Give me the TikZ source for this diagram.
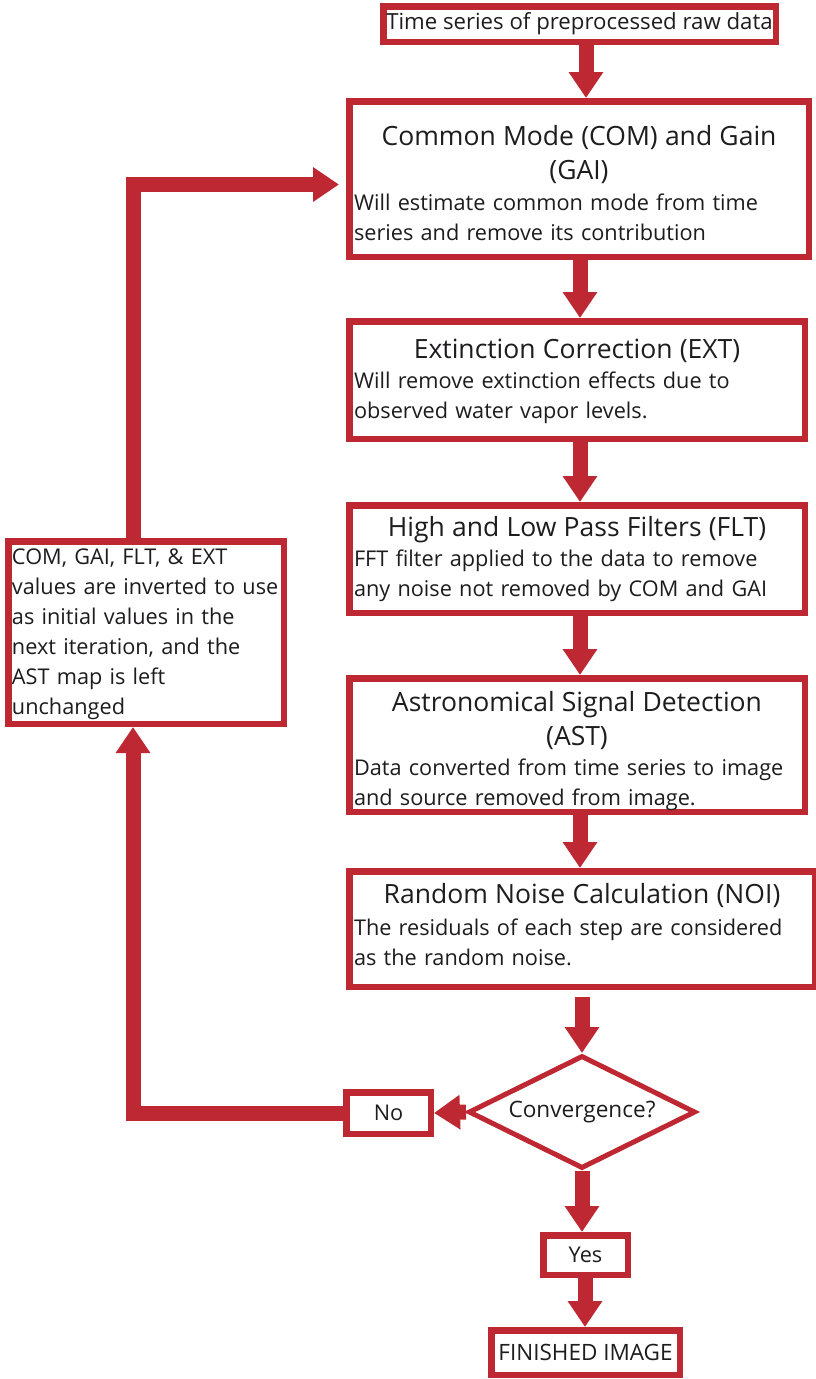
\documentclass[tikz,border=0pt]{standalone}
\usepackage{fontspec}
\setmainfont{Open Sans}
\usetikzlibrary{arrows.meta,shapes.geometric}
\definecolor{fred}{RGB}{190,40,50}
\definecolor{ftext}{RGB}{30,28,30}
\newcommand{\bodyf}{\fontsize{21.7}{30}\selectfont}
\newcommand{\titlef}{\fontsize{26.5}{34}\selectfont}
\newcommand{\shiftdown}[1]{\par\vspace{-#1}}
\begin{document}
\begin{tikzpicture}[x=1pt,y=-1pt,
  box/.style={draw=fred, line width=6.5pt, fill=white, inner sep=0pt, text=ftext, align=center, font=\bodyf},
  bigarrow/.style={draw=fred, line width=15pt, -{Triangle[length=26pt,width=33pt]}},
  diam/.style={diamond, aspect=2, draw=fred, line width=5pt, fill=white, inner sep=0pt, text=ftext, font=\fontsize{22.6}{29}\selectfont},
]
\useasboundingbox (0,0) rectangle (816,1379);

\node[box, font=\fontsize{22.2}{30}\selectfont, minimum width=392.5pt, minimum height=35.5pt] (top) at (579.5,24)
  {Time series of preprocessed raw data};

\node[box, minimum width=459.5pt, minimum height=155.5pt, text width=450pt] (com) at (579,179)
  {{\titlef Common Mode (COM) and Gain\\(GAI)\par}\vspace{1pt}{\raggedright Will estimate common mode from time\\series and remove its contribution\par}\shiftdown{8pt}};

\node[box, minimum width=455.5pt, minimum height=117.5pt, text width=446pt] (ext) at (577,380)
  {{\titlef Extinction Correction (EXT)\par}{\raggedright Will remove extinction effects due to\\observed water vapor levels.\par}\shiftdown{2pt}};

\node[box, minimum width=455.5pt, minimum height=107.5pt, text width=446pt] (flt) at (577,559)
  {{\titlef High and Low Pass Filters (FLT)\par}{\raggedright FFT filter applied to the data to remove\\any noise not removed by COM and GAI\par}};

\node[box, minimum width=455.5pt, minimum height=133.5pt, text width=446pt] (ast) at (577,745)
  {{\titlef Astronomical Signal Detection\\(AST)\par}{\raggedright Data converted from time series to image\\and source removed from image.\par}\shiftdown{12pt}};

\node[box, minimum width=465.5pt, minimum height=115.5pt, text width=456pt] (noi) at (582,929)
  {{\titlef Random Noise Calculation (NOI)\par}\vspace{2pt}{\raggedright The residuals of each step are considered\\as the random noise.\par}\shiftdown{-8pt}};

\node[box, minimum width=275.5pt, minimum height=182.5pt, text width=268pt] (left) at (146,632.5)
  {{\raggedright COM, GAI, FLT, \& EXT\\values are inverted to use\\as initial values in the\\next iteration, and the\\AST map is left\\unchanged\par}\shiftdown{3pt}};

\node[diam, minimum width=227pt, minimum height=113pt] (conv) at (582,1112) {Convergence?};

\node[box, minimum width=84.5pt, minimum height=41.5pt] (no) at (388.5,1113) {No};
\node[box, minimum width=84.5pt, minimum height=39.5pt] (yes) at (585.5,1255) {Yes};
\node[box, font=\fontsize{22.5}{30}\selectfont, minimum width=188.5pt, minimum height=44.5pt] (fin) at (585.5,1352.5) {FINISHED IMAGE};

\coordinate (axT) at (586,0);
\coordinate (ax) at (580,0);
\coordinate (axB) at (582,0);
\coordinate (axF) at (585,0);
\coordinate (fbx) at (133,0);
\coordinate (fby) at (0,184.5);

\draw[bigarrow] (top.south -| axT) -- (com.north -| axT);
\draw[bigarrow] (com.south -| ax) -- (ext.north -| ax);
\draw[bigarrow] (ext.south -| ax) -- (flt.north -| ax);
\draw[bigarrow] (flt.south -| ax) -- (ast.north -| ax);
\draw[bigarrow] (ast.south -| ax) -- (noi.north -| ax);
\draw[bigarrow] ([yshift=-7pt]noi.south -| axB) -- (conv.north -| axB);
\draw[bigarrow] (conv.south -| axB) -- (yes.north -| axB);
\draw[bigarrow] (yes.south -| axF) -- (fin.north -| axF);
\draw[bigarrow] (conv.west) -- (no.east);
\draw[bigarrow] (no.west) -| (left.south -| fbx);
\draw[bigarrow] (left.north -| fbx) |- ([xshift=-7pt]com.west |- fby);
\end{tikzpicture}
\end{document}
